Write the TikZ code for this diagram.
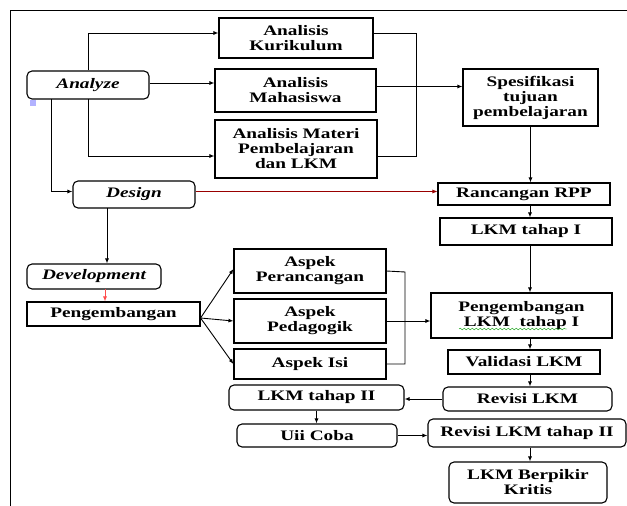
\documentclass[tikz,border=0pt]{standalone}
\usepackage{fontspec}
\setmainfont{Liberation Serif}[FakeStretch=1.33]
\usetikzlibrary{arrows.meta,decorations.pathmorphing}

\begin{document}
\begin{tikzpicture}[x=1pt,y=-1pt,
  box/.style={draw,line width=1.1pt,inner sep=0pt,align=center,
    font=\fontsize{14.5}{15}\selectfont\bfseries},
  rbox/.style={box,rounded corners=5pt},
  phase/.style={rbox,font=\fontsize{14.5}{15}\selectfont\bfseries\itshape},
  arr/.style={-{Latex[length=5pt,width=4pt]},line width=0.9pt},
  link/.style={line width=0.9pt}]
\useasboundingbox (0,0) rectangle (627,506);
\draw [line width=1pt] (627,10) -- (10,10) -- (10,506);
\fill [blue!30] (30,100) rectangle (36,106);
% analyze
\node [phase,minimum width=122pt,minimum height=28pt] (ana) at (88,85) {Analyze};
\node [box,minimum width=154pt,minimum height=40pt] (kur) at (296,38) {Analisis\\Kurikulum};
\node [box,minimum width=161pt,minimum height=43pt] (mah) at (295.5,90.5) {Analisis\\Mahasiswa};
\node [box,minimum width=162pt,minimum height=58pt] (mat) at (296,149) {Analisis Materi\\Pembelajaran\\dan LKM};
\node [box,minimum width=135pt,minimum height=57pt] (spe) at (530.5,97.5) {Spesifikasi\\tujuan\\pembelajaran};
% design
\node [phase,minimum width=122pt,minimum height=27pt] (des) at (134,194.5) {Design};
\node [box,minimum width=172pt,minimum height=22pt] (ran) at (524,194) {Rancangan RPP};
\node [box,minimum width=172pt,minimum height=27pt] (lk1) at (526,231.5) {LKM tahap I};
% development
\node [phase,minimum width=134pt,minimum height=25pt] (dev) at (94,276.5) {Development};
\node [box,minimum width=173pt,minimum height=24pt] (pen) at (113.5,314) {Pengembangan};
\node [box,minimum width=152pt,minimum height=44pt] (per) at (310,271) {Aspek\\Perancangan};
\node [box,minimum width=152pt,minimum height=44pt] (ped) at (310,321) {Aspek\\Pedagogik};
\node [box,minimum width=152pt,minimum height=30pt] (isi) at (310,364) {Aspek Isi};
\node [box,minimum width=181pt,minimum height=45pt] (plk) at (521.5,315.5) {Pengembangan\\LKM\ \ tahap I};
\node [box,minimum width=152pt,minimum height=24pt] (val) at (524,362) {Validasi LKM};
\node [rbox,minimum width=169pt,minimum height=24pt] (rev) at (527.5,399) {Revisi LKM};
\node [rbox,minimum width=175pt,minimum height=25pt] (lk2) at (316.5,397.5) {LKM tahap II};
\node [rbox,minimum width=160pt,minimum height=23pt] (uji) at (317,435.5) {Uii Coba};
\node [rbox,minimum width=198pt,minimum height=28pt] (rv2) at (527,433) {Revisi LKM tahap II};
\node [rbox,minimum width=158pt,minimum height=41pt] (kri) at (528,482.5) {LKM Berpikir\\Kritis};
\draw [green!60!black,decorate,decoration={snake,amplitude=0.8pt,segment length=4pt}] (459,329) -- (567,329);
% helper points
\coordinate (col) at (530,0);
\coordinate (jA) at (416,33);
\coordinate (jB) at (416,156);
\coordinate (jC) at (405,272);
\coordinate (jD) at (405,364);
\coordinate (aDes) at (51,99);
\coordinate (aMat) at (88,99);
\coordinate (dBot) at (107,208);
\coordinate (vBot) at (105,289);
% analyze links
\draw [arr] (ana.north) |- ([yshift=5pt]kur.west);
\draw [arr] ([yshift=2pt]ana.east) -- ([yshift=2pt]ana.east -| mah.west);
\draw [arr] (aMat) |- ([yshift=-7pt]mat.west);
\draw [arr] (aDes) |- ([yshift=3pt]des.west);
\draw [link] ([yshift=5pt]kur.east) -- (jA) -- (jB) -- ([yshift=-7pt]mat.east);
\draw [arr] ([yshift=4pt]mah.east) -- ([yshift=4pt]mah.east -| spe.west);
\draw [arr] (spe.south) -- (spe.south |- ran.north);
% design links
\draw [-{Latex[length=5pt,width=4pt]},red!60!black,line width=0.6pt] ([yshift=3pt]des.east) -- ([yshift=3pt]des.east -| ran.west);
\draw [arr] (ran.south -| col) -- (lk1.north -| col);
\draw [arr] (dBot) -- (dBot |- dev.north);
% development links
\draw [-{Latex[length=5pt,width=4pt]},red!70,line width=0.8pt] (vBot) -- (vBot |- pen.north);
\draw [arr] ([yshift=-4pt]pen.east) -- ([yshift=2pt]per.west);
\draw [arr] ([yshift=-4pt]pen.east) -- (ped.west);
\draw [arr] ([yshift=-4pt]pen.east) -- (isi.west);
\draw [link] (per.east) -- (jC) -- (jD) -- (isi.east);
\draw [arr] (ped.east) -- (ped.east -| plk.west);
\draw [arr] (lk1.south -| col) -- (plk.north -| col);
\draw [arr] (plk.south -| col) -- (val.north -| col);
\draw [arr] (val.south -| col) -- (rev.north -| col);
\draw [arr] (rev.west) -- (rev.west -| lk2.east);
\draw [arr] (lk2.south) -- (lk2.south |- uji.north);
\draw [arr] (uji.east) -- (uji.east -| rv2.west);
\draw [arr] (rv2.south -| col) -- (kri.north -| col);
\end{tikzpicture}
\end{document}
